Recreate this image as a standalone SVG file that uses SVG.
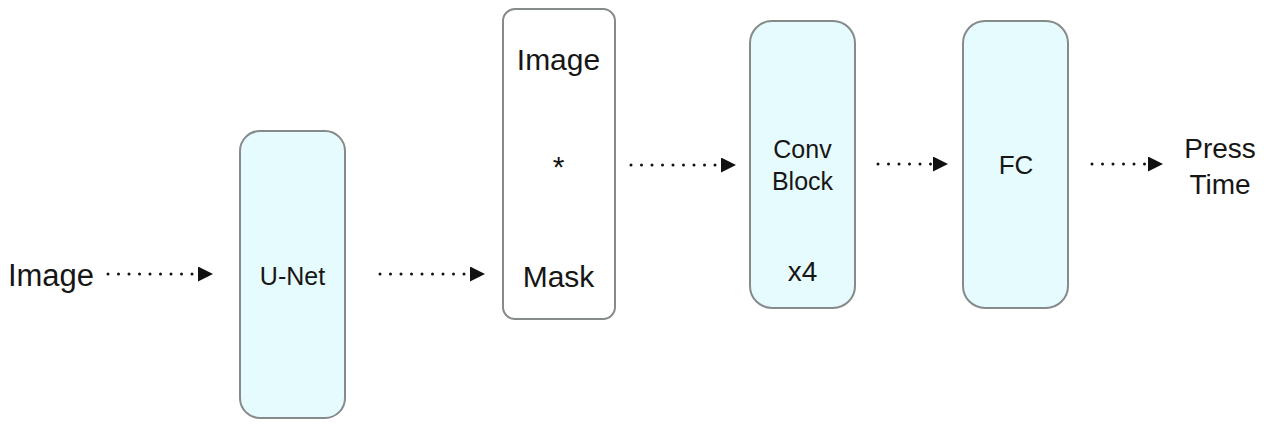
<svg xmlns="http://www.w3.org/2000/svg" width="1280" height="430" viewBox="0 0 1280 430">
<style>
.box{fill:#e6fbfd;stroke:#868a8a;stroke-width:2}
.wbox{fill:#ffffff;stroke:#868a8a;stroke-width:2}
.t{font-family:"Liberation Sans",Arial,sans-serif;fill:#161616;text-anchor:middle}
.dot{stroke:#111;stroke-width:3;stroke-linecap:round;stroke-dasharray:0 10.5;fill:none}
</style>
<defs>
<marker id="ah" viewBox="0 0 10 10" refX="0" refY="5" markerWidth="15" markerHeight="15" markerUnits="userSpaceOnUse" orient="auto">
<path d="M0,0 L10,5 L0,10 Z" fill="#111"/>
</marker>
</defs>
<rect width="1280" height="430" fill="#ffffff"/>
<g id="input">
<text class="t" x="51" y="286" font-size="31">Image</text>
</g>
<g id="unet">
<rect class="box" x="240" y="131" width="105" height="287" rx="20"/>
<text class="t" x="292.5" y="285" font-size="25">U-Net</text>
</g>
<g id="mask">
<rect class="wbox" x="503" y="9" width="112" height="310" rx="12"/>
<text class="t" x="558.5" y="70" font-size="30">Image</text>
<text class="t" x="558.5" y="177" font-size="30">*</text>
<text class="t" x="558.5" y="287" font-size="30">Mask</text>
</g>
<g id="conv">
<rect class="box" x="750" y="21" width="105" height="287" rx="22"/>
<text class="t" x="802.5" y="158" font-size="25">Conv</text>
<text class="t" x="802.5" y="190" font-size="25">Block</text>
<text class="t" x="802.5" y="281" font-size="28">x4</text>
</g>
<g id="fc">
<rect class="box" x="963" y="21" width="105" height="287" rx="22"/>
<text class="t" x="1016" y="174" font-size="26">FC</text>
</g>
<g id="output">
<text class="t" x="1220" y="158" font-size="28">Press</text>
<text class="t" x="1220" y="194" font-size="28">Time</text>
</g>
<g id="connectors">
<path class="dot" d="M108,274 H198" marker-end="url(#ah)"/>
<path class="dot" d="M380,274 H470" marker-end="url(#ah)"/>
<path class="dot" d="M631,165 H721" marker-end="url(#ah)"/>
<path class="dot" d="M878,164 H933" marker-end="url(#ah)"/>
<path class="dot" d="M1092,164 H1148" marker-end="url(#ah)"/>
</g>
</svg>
